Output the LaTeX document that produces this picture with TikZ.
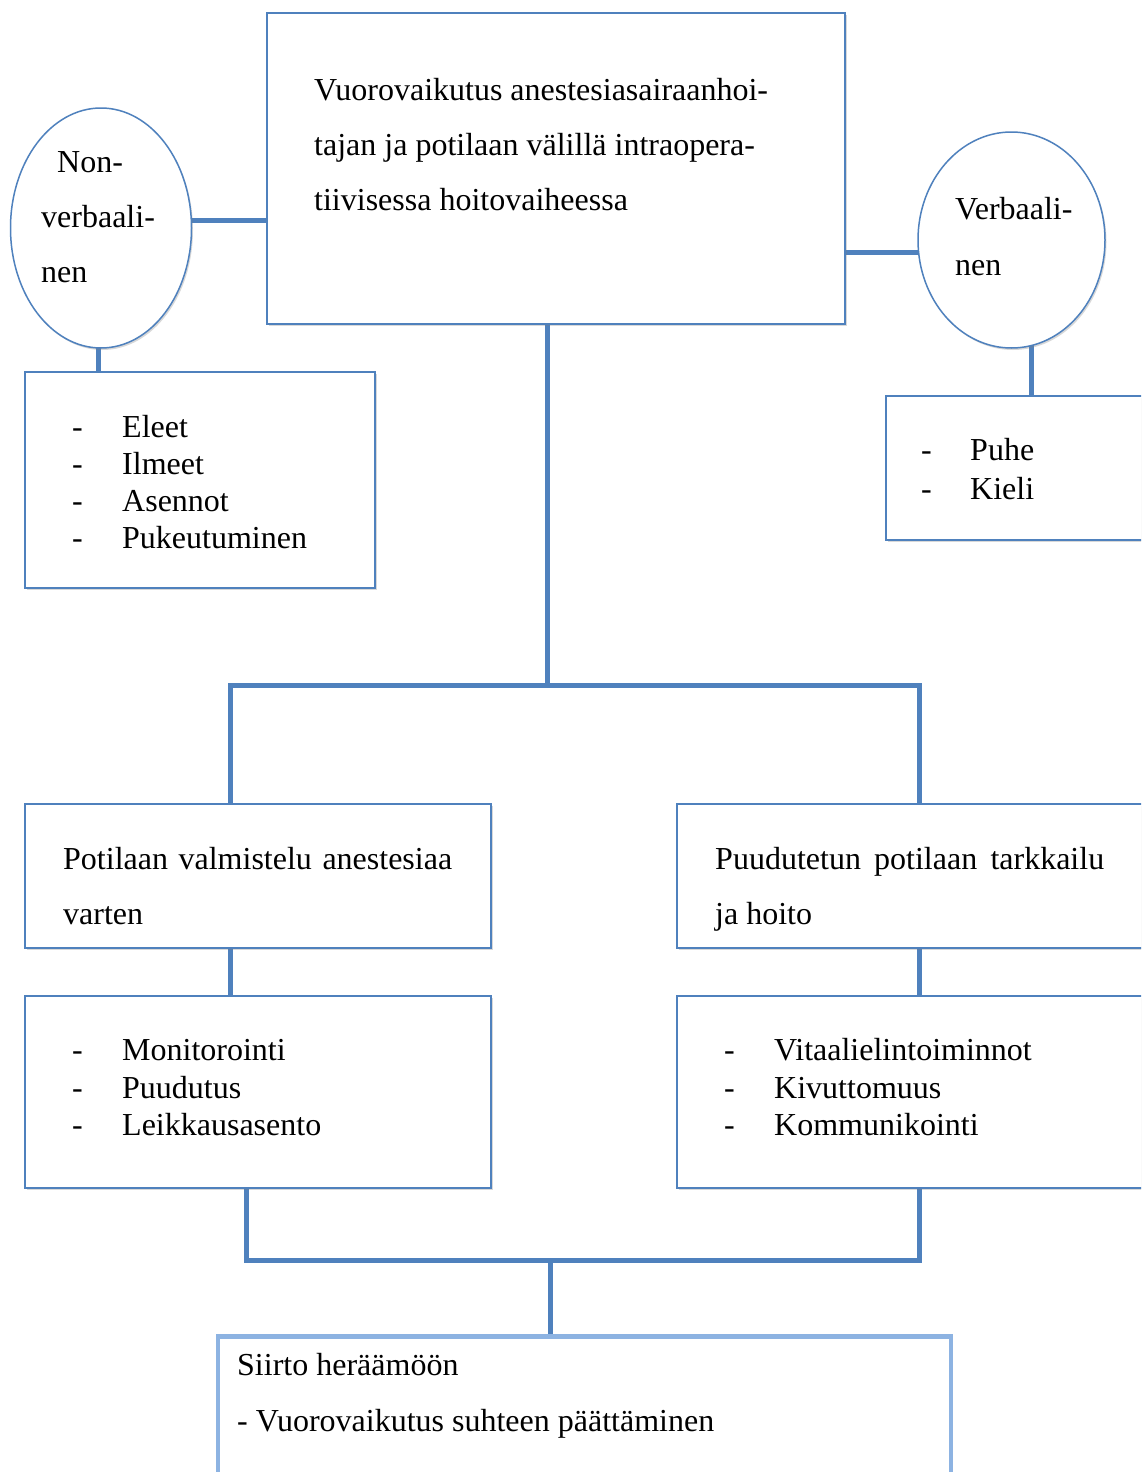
\documentclass[tikz,border=0pt]{standalone}
\usepackage{fontspec}
\setmainfont{Liberation Serif}
\usetikzlibrary{shapes.geometric,shadows,backgrounds}
\definecolor{boxblue}{HTML}{4F81BD}
\definecolor{lightblue}{HTML}{8DB3E2}
\tikzset{
  shad/.style={drop shadow={shadow xshift=1.5pt,shadow yshift=-2pt,opacity=0.3,fill=black!50}},
  box/.style={draw=boxblue,line width=1.5pt,fill=white,shad,anchor=north west,inner sep=0pt,outer sep=0pt},
  oval/.style={ellipse,draw=boxblue,line width=1.5pt,fill=white,shad,inner sep=0pt},
  conn/.style={draw=boxblue,line width=5pt,line join=miter},
  txt/.style={anchor=base west,inner sep=0pt,font=\fontsize{32}{38}\selectfont},
}
\begin{document}
\begin{tikzpicture}[x=1pt,y=-1pt]
\useasboundingbox (0,0) rectangle (1141,1472);
\clip (0,0) rectangle (1141,1472);

% boxes
\node[box,minimum width=578pt,minimum height=311pt] (top) at (267,13) {};
\node[oval,minimum width=181pt,minimum height=240pt] (nv) at (101,228) {};
\node[oval,minimum width=187pt,minimum height=216pt] (ve) at (1011.5,240) {};
\node[box,minimum width=350pt,minimum height=216pt] (nl) at (25,372) {};
\node[box,minimum width=280pt,minimum height=144pt] (vl) at (886,396) {};
\node[box,minimum width=466pt,minimum height=144pt] (pv) at (25,804) {};
\node[box,minimum width=490pt,minimum height=144pt] (pt) at (677,804) {};
\node[box,minimum width=466pt,minimum height=192pt] (lv) at (25,996) {};
\node[box,minimum width=490pt,minimum height=192pt] (rv) at (677,996) {};
\node[draw=lightblue,line width=4.5pt,fill=white,anchor=north west,inner sep=0pt,minimum width=733pt,minimum height=170pt] (fin) at (215.5,1334) {};

% junction points
\coordinate (j1) at (547,685);
\coordinate (jl) at (230,685);
\coordinate (jr) at (919,685);
\coordinate (bl) at (246,1260);
\coordinate (br) at (919,1260);
\coordinate (bm) at (550,1260);
\coordinate (hl) at (230,220);
\coordinate (hr) at (1031,252);
\coordinate (nx) at (98,300);

\begin{pgfonlayer}{background}
\fill[white] (0,0) rectangle (1141,1472);
\draw[conn] (nv.center |- hl) -- (top.center |- hl);
\draw[conn] (ve.center |- hr) -- (top.center |- hr);
\draw[conn] (nx |- nv.center) -- (nx |- nl.center);
\draw[conn] (hr |- ve.center) -- (hr |- vl.center);
\draw[conn] (j1 |- top.center) -- (j1);
\draw[conn] (jl |- pv.center) -- (jl) -- (jr) -- (jr |- pt.center);
\draw[conn] (jl |- pv.center) -- (jl |- lv.center);
\draw[conn] (jr |- pt.center) -- (jr |- rv.center);
\draw[conn] (bl |- lv.center) -- (bl) -- (br) -- (br |- rv.center);
\draw[conn] (bm) -- (bm |- fin.center);
\end{pgfonlayer}

% texts
\node[txt] (t1) at (314,100) {Vuorovaikutus anestesiasairaanhoi-};
\node[txt] (t2) at (314,155) {tajan ja potilaan välillä intraopera-};
\node[txt] (t3) at (314,210) {tiivisessa hoitovaiheessa};

\node[txt] (n1) at (57,172) {Non-};
\node[txt] (n2) at (41,227) {verbaali-};
\node[txt] (n3) at (41,282) {nen};

\node[txt] (v1) at (955,219) {Verbaali-};
\node[txt] (v2) at (955,275) {nen};

\foreach \t [count=\i] in {Eleet,Ilmeet,Asennot,Pukeutuminen}{
  \node[txt] (nd\i) at (72,400+37*\i) {-};
  \node[txt] (ni\i) at (122,400+37*\i) {\t};
}
\foreach \t [count=\i] in {Puhe,Kieli}{
  \node[txt] (vd\i) at (921,421+39*\i) {-};
  \node[txt] (vi\i) at (970,421+39*\i) {\t};
}

\node[txt] (p1) at (63,869) {\hbox to 389pt{Potilaan\hfil valmistelu\hfil anestesiaa}};
\node[txt] (p2) at (63,924) {varten};
\node[txt] (q1) at (715,869) {\hbox to 389pt{Puudutetun\hfil potilaan\hfil tarkkailu}};
\node[txt] (q2) at (715,924) {ja hoito};

\foreach \t [count=\i] in {Monitorointi,Puudutus,Leikkausasento}{
  \node[txt] (ld\i) at (72,1023+37.5*\i) {-};
  \node[txt] (li\i) at (122,1023+37.5*\i) {\t};
}
\foreach \t [count=\i] in {Vitaalielintoiminnot,Kivuttomuus,Kommunikointi}{
  \node[txt] (rd\i) at (724,1023+37.5*\i) {-};
  \node[txt] (ri\i) at (774,1023+37.5*\i) {\t};
}

\node[txt] (f1) at (237,1375) {Siirto heräämöön};
\node[txt] (f2) at (237,1431) {- Vuorovaikutus suhteen päättäminen};
\end{tikzpicture}
\end{document}
